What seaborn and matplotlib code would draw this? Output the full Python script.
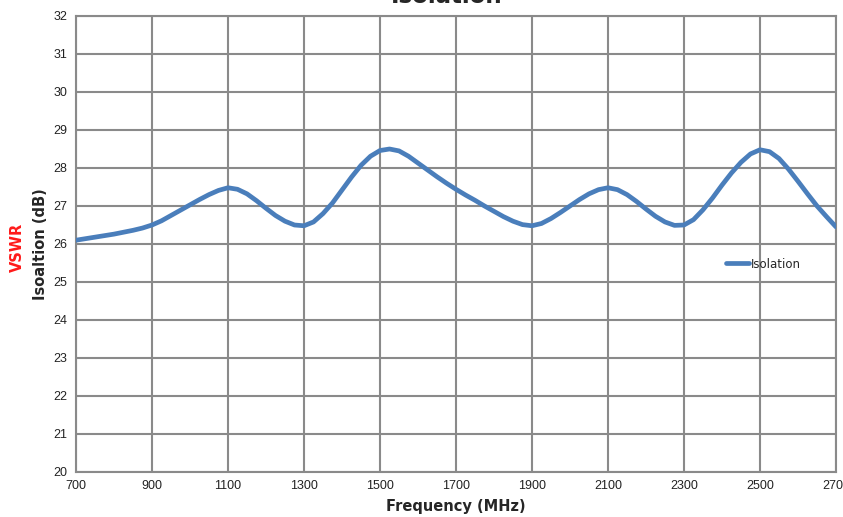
import matplotlib
matplotlib.use("Agg")
import matplotlib.pyplot as plt
import seaborn as sns
import pandas as pd

# Data
freq_mhz = [700, 725, 750, 775, 800, 825, 850, 875, 900, 925, 950, 975, 1000, 1025,
            1050, 1075, 1100, 1125, 1150, 1175, 1200, 1225, 1250, 1275, 1300, 1325,
            1350, 1375, 1400, 1425, 1450, 1475, 1500, 1525, 1550, 1575, 1600, 1625,
            1650, 1675, 1700, 1725, 1750, 1775, 1800, 1825, 1850, 1875, 1900, 1925,
            1950, 1975, 2000, 2025, 2050, 2075, 2100, 2125, 2150, 2175, 2200, 2225,
            2250, 2275, 2300, 2325, 2350, 2375, 2400, 2425, 2450, 2475, 2500, 2525,
            2550, 2575, 2600, 2625, 2650, 2675, 2700]
isolation_db = [26.10, 26.14, 26.18, 26.22, 26.26, 26.31, 26.36, 26.42, 26.50, 26.61,
                26.75, 26.89, 27.03, 27.17, 27.30, 27.41, 27.48, 27.44, 27.32, 27.14,
                26.94, 26.75, 26.60, 26.50, 26.48, 26.58, 26.80, 27.08, 27.42, 27.76,
                28.07, 28.31, 28.46, 28.50, 28.45, 28.31, 28.13, 27.95, 27.77, 27.60,
                27.44, 27.29, 27.15, 27.00, 26.86, 26.72, 26.60, 26.51, 26.48, 26.54,
                26.67, 26.83, 27.00, 27.17, 27.32, 27.43, 27.48, 27.43, 27.30, 27.12,
                26.92, 26.73, 26.58, 26.49, 26.50, 26.64, 26.90, 27.21, 27.55, 27.87,
                28.15, 28.37, 28.48, 28.43, 28.25, 27.97, 27.65, 27.32, 27.00, 26.72,
                26.45]
x_ticks = [700, 900, 1100, 1300, 1500, 1700, 1900, 2100, 2300, 2500, 2700]
y_ticks = [20, 21, 22, 23, 24, 25, 26, 27, 28, 29, 30, 31, 32]

df = pd.DataFrame({"Frequency (MHz)": freq_mhz, "Isolation": isolation_db,
                   "series": ["Isolation"] * len(freq_mhz)})

sns.set_style("white")
plt.rcParams["font.family"] = ["Liberation Sans", "DejaVu Sans"]

W, H = 843, 517
fig = plt.figure(figsize=(W / 100, H / 100), dpi=100)
ax = fig.add_axes([76 / W, 1 - 472 / H, (836 - 76) / W, (472 - 16) / H])

grid_c = "#8a8a8a"
line_c = "#4a7ebb"
sns.lineplot(data=df, x="Frequency (MHz)", y="Isolation", hue="series",
             palette=[line_c], linewidth=3.4, ax=ax, legend=True, zorder=3)
for ln in ax.get_lines():
    ln.set_solid_joinstyle("round")
    ln.set_solid_capstyle("round")

ax.set_xlim(700, 2700)
ax.set_ylim(20, 32)
ax.set_xticks(x_ticks)
ax.set_yticks(y_ticks)
ax.set_xticklabels([str(t) for t in x_ticks], fontsize=9)
ax.set_yticklabels([str(t) for t in y_ticks], fontsize=9)
ax.grid(True, color=grid_c, linewidth=1.5)
ax.set_axisbelow(True)
for s in ax.spines.values():
    s.set_color(grid_c)
    s.set_linewidth(1.5)
ax.tick_params(axis="both", direction="out", length=4, width=1.5, color=grid_c,
               labelcolor="#222222", pad=2)

ax.set_xlabel("Frequency (MHz)", fontsize=10.5, fontweight="bold",
              family=["DejaVu Sans"], labelpad=5)
ax.set_ylabel("Isoaltion (dB)", fontsize=10.5, fontweight="bold",
              family=["DejaVu Sans"], labelpad=4)

fig.text(17 / W, 1 - 247 / H, "VSWR", rotation=90, color="#ff1a1a",
         fontsize=10.5, fontweight="bold", family=["DejaVu Sans"],
         ha="center", va="center")
fig.text(447 / W, 1 - 3 / H, "Isolation", fontsize=16.5, fontweight="bold",
         family=["DejaVu Sans"], ha="center", va="baseline")

leg = ax.legend(loc="center left", bbox_to_anchor=((721 - 76) / (836 - 76),
                1 - (264 - 16) / (472 - 16)), frameon=False,
                prop={"family": "DejaVu Sans", "size": 8.5},
                handlelength=2.0, handletextpad=0.1, borderaxespad=0)
for line in leg.get_lines():
    line.set_linewidth(3.4)

fig.savefig("out.png", dpi=100)
